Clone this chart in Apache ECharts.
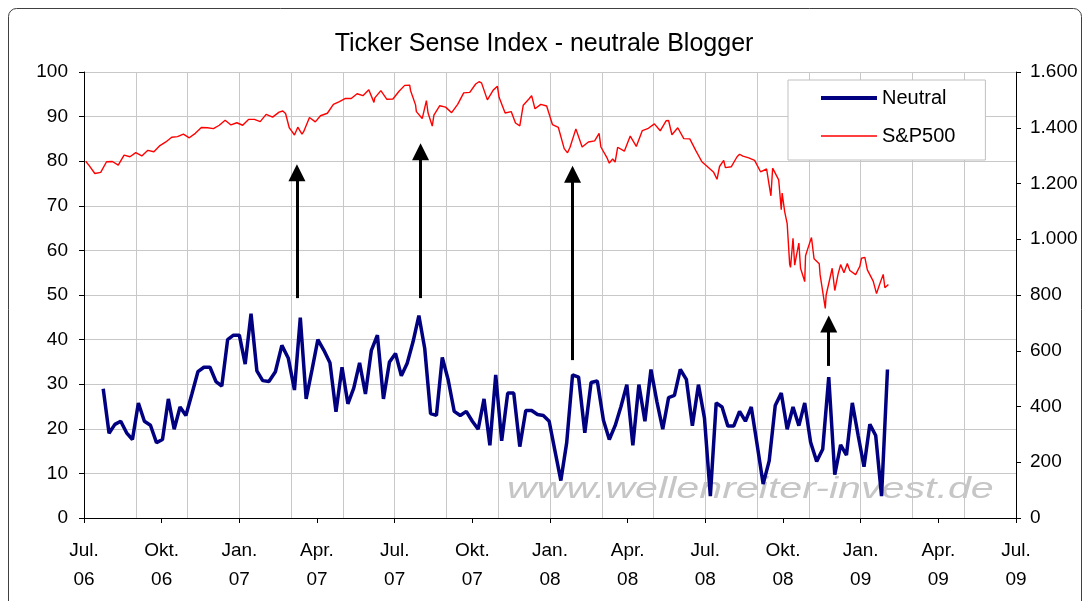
<!doctype html>
<html lang="de">
    <head>
        <meta charset="UTF-8" />
        <title>Ticker Sense Index - neutrale Blogger</title>
        <script src="https://cdn.jsdelivr.net/npm/echarts@6.0.0/dist/echarts.min.js"></script>
        <style>
            html, body { margin: 0; padding: 0; background: #fff; }
        </style>
    </head>
    <body>
        <div id="main" style="width: 1088px; height: 601px"></div>

        <script>
            // Neutral bloggers (%), one reading per week starting at neutralStart
            const neutralStart = "2006-07-24";
            const neutralValues = [
                29, 19, 21, 21.7, 19.1, 17.6, 25.8, 21.7, 20.8, 16.9, 17.6, 26.7, 19.9, 24.9, 23, 27.8, 32.8, 33.8, 33.8, 30.6, 29.6, 40, 41,
                41, 34.5, 45.8, 33, 30.8, 30.6, 32.8, 38.7, 35.8, 28.7, 44.9, 26.7, 33.2, 40, 37.6, 34.8, 23.8, 33.8, 25.6, 29.1, 34.8, 27.8,
                37.6, 41, 26.7, 35, 36.9, 31.9, 34.7, 39.5, 45.4, 38, 23.4, 23, 36, 31, 23.9, 23, 23.9, 21.7, 19.9, 26.7, 16.3, 32.1, 17.3,
                28, 28, 16, 24.1, 24.1, 23.2, 23, 21.7, 15, 8.4, 16.9, 32.1, 31.6, 19.1, 30.4, 30.7, 21.9, 17.6, 20.7, 25, 29.9, 16.3, 29.9,
                21.7, 33.3, 26.1, 19.9, 27, 27.5, 33.3, 31.1, 20.7, 29.9, 22.4, 4.9, 25.8, 24.9, 20.6, 20.6, 23.9, 21.7, 24.9, 16.5, 7.6, 12.8, 25.2,
                28, 19.9, 24.9, 20.7, 25.8, 17, 12.7, 15.4, 31.6, 9.7, 16.4, 14.1, 25.8, 18.5, 11.5, 21, 18.5, 4.9, 33.3
            ];

            // S&P 500 closes
            const spDates = [
                "2006-07-03", "2006-07-07", "2006-07-14", "2006-07-21", "2006-07-28", "2006-08-04", "2006-08-11", "2006-08-18",
                "2006-08-25", "2006-09-01", "2006-09-08", "2006-09-15", "2006-09-22", "2006-09-29", "2006-10-06", "2006-10-13",
                "2006-10-20", "2006-10-27", "2006-11-03", "2006-11-10", "2006-11-17", "2006-11-24", "2006-12-01", "2006-12-08",
                "2006-12-15", "2006-12-22", "2006-12-29", "2007-01-05", "2007-01-12", "2007-01-19", "2007-01-26", "2007-02-02",
                "2007-02-09", "2007-02-16", "2007-02-20", "2007-02-23", "2007-02-27", "2007-03-02", "2007-03-05", "2007-03-09",
                "2007-03-14", "2007-03-16", "2007-03-23", "2007-03-30", "2007-04-05", "2007-04-13", "2007-04-20", "2007-04-27",
                "2007-05-04", "2007-05-11", "2007-05-18", "2007-05-25", "2007-06-01", "2007-06-07", "2007-06-08", "2007-06-15",
                "2007-06-22", "2007-06-29", "2007-07-06", "2007-07-13", "2007-07-19", "2007-07-20", "2007-07-26", "2007-07-27",
                "2007-08-03", "2007-08-08", "2007-08-10", "2007-08-15", "2007-08-17", "2007-08-24", "2007-08-31", "2007-09-07",
                "2007-09-14", "2007-09-21", "2007-09-28", "2007-10-05", "2007-10-09", "2007-10-12", "2007-10-19", "2007-10-26",
                "2007-10-31", "2007-11-02", "2007-11-09", "2007-11-16", "2007-11-21", "2007-11-26", "2007-11-30", "2007-12-07",
                "2007-12-10", "2007-12-14", "2007-12-21", "2007-12-28", "2008-01-04", "2008-01-11", "2008-01-18", "2008-01-22",
                "2008-01-25", "2008-02-01", "2008-02-08", "2008-02-15", "2008-02-22", "2008-02-27", "2008-02-29", "2008-03-07",
                "2008-03-10", "2008-03-14", "2008-03-17", "2008-03-20", "2008-03-28", "2008-04-04", "2008-04-11", "2008-04-18",
                "2008-04-25", "2008-05-02", "2008-05-09", "2008-05-16", "2008-05-19", "2008-05-23", "2008-05-30", "2008-06-06",
                "2008-06-13", "2008-06-20", "2008-06-27", "2008-07-03", "2008-07-11", "2008-07-15", "2008-07-18", "2008-07-23",
                "2008-07-25", "2008-08-01", "2008-08-08", "2008-08-11", "2008-08-15", "2008-08-22", "2008-08-29", "2008-09-05",
                "2008-09-12", "2008-09-15", "2008-09-17", "2008-09-19", "2008-09-26", "2008-09-29", "2008-09-30", "2008-10-03",
                "2008-10-06", "2008-10-09", "2008-10-10", "2008-10-13", "2008-10-15", "2008-10-17", "2008-10-20", "2008-10-22",
                "2008-10-24", "2008-10-27", "2008-10-28", "2008-10-31", "2008-11-04", "2008-11-07", "2008-11-13", "2008-11-14",
                "2008-11-20", "2008-11-21", "2008-11-28", "2008-12-01", "2008-12-05", "2008-12-08", "2008-12-12", "2008-12-16",
                "2008-12-19", "2008-12-26", "2008-12-31", "2009-01-02", "2009-01-06", "2009-01-09", "2009-01-16", "2009-01-20",
                "2009-01-23", "2009-01-28", "2009-01-30", "2009-02-03"
            ];
            const spValues = [
                1280, 1265, 1236, 1240, 1278, 1279, 1266, 1302,
                1296, 1311, 1299, 1319, 1314, 1336, 1349, 1366,
                1368, 1377, 1364, 1380, 1401, 1400, 1397, 1409,
                1427, 1410, 1418, 1409, 1430, 1430, 1422, 1448,
                1438, 1456, 1460, 1451, 1400, 1387, 1374, 1402,
                1377, 1386, 1437, 1421, 1443, 1452, 1484, 1494,
                1505, 1505, 1522, 1515, 1536, 1491, 1507, 1533,
                1502, 1503, 1530, 1552, 1553, 1534, 1482, 1458,
                1433, 1497, 1453, 1406, 1445, 1479, 1474, 1454,
                1484, 1525, 1527, 1557, 1565, 1561, 1500, 1535,
                1549, 1509, 1453, 1458, 1417, 1407, 1481, 1504,
                1515, 1468, 1484, 1478, 1411, 1401, 1325, 1310,
                1330, 1396, 1331, 1349, 1353, 1380, 1331, 1294,
                1273, 1288, 1277, 1330, 1316, 1370, 1333, 1390,
                1398, 1414, 1389, 1425, 1426, 1375, 1400, 1361,
                1360, 1318, 1278, 1262, 1240, 1215, 1261, 1283,
                1257, 1260, 1296, 1305, 1298, 1292, 1283, 1242,
                1252, 1193, 1156, 1255, 1213, 1106, 1166, 1099,
                1056, 910, 899, 1003, 907, 940, 986, 896,
                877, 848, 941, 969, 1006, 930, 912, 873,
                752, 800, 896, 816, 876, 909, 880, 913,
                888, 873, 903, 932, 935, 890, 850, 805,
                832, 874, 826, 838
            ];

            // x tick labels, one per quarter from Jul. 06 to Jul. 09
            const xTickLabels = [
                "Jul.\n06", "Okt.\n06", "Jan.\n07", "Apr.\n07", "Jul.\n07", "Okt.\n07", "Jan.\n08",
                "Apr.\n08", "Jul.\n08", "Okt.\n08", "Jan.\n09", "Apr.\n09", "Jul.\n09"
            ];

            // Arrows drawn on the chart (date position, bottom and tip in left-axis units)
            const arrowDates = ["2007-03-08", "2007-08-01", "2008-01-28", "2008-11-24"];
            const arrowFrom = [49.3, 49.3, 35.4, 34.1];
            const arrowTo = [77.4, 82.1, 77.1, 43.5];

            // months since 1 Jul 2006
            function toMonths(s) {
                const [y, m, d] = s.split("-").map(Number);
                const dim = new Date(y, m, 0).getDate();
                return (y - 2006) * 12 + (m - 1) - 6 + (d - 1) / dim;
            }
            function addDays(s, n) {
                const t = new Date(s + "T00:00:00Z");
                t.setUTCDate(t.getUTCDate() + n);
                return t.toISOString().slice(0, 10);
            }
            function de(v) {
                if (v >= 1000) return Math.floor(v / 1000) + "." + String(v % 1000).padStart(3, "0");
                return String(v);
            }

            const neutralData = neutralValues.map((v, i) => [toMonths(addDays(neutralStart, i * 7)), v]);
            const spData = spDates.map((d, i) => [toMonths(d), spValues[i]]);

            const myChart = echarts.init(document.getElementById("main"));
            const font = "Liberation Sans, Arial, sans-serif";

            const options = {
                animation: false,
                backgroundColor: "#fff",
                textStyle: { fontFamily: font, color: "#000" },
                title: {
                    text: "Ticker Sense Index - neutrale Blogger",
                    left: "center",
                    top: 27,
                    textStyle: { fontFamily: font, fontSize: 25, fontWeight: "normal", color: "#000" },
                },
                legend: {
                    orient: "vertical",
                    left: 788,
                    top: 80,
                    padding: [7, 30, 13, 33],
                    itemGap: 16,
                    itemWidth: 56,
                    itemHeight: 14,
                    backgroundColor: "#fff",
                    borderColor: "#c0c0c0",
                    borderWidth: 1,
                    textStyle: { fontFamily: font, fontSize: 20, color: "#000", lineHeight: 22 },
                    data: [
                        { name: "Neutral", icon: "path://M0,0H56V4H0Z" },
                        { name: "S&P500", icon: "path://M0,0H56V1.5H0Z" },
                    ],
                },
                grid: { left: 84, right: 72, top: 72, bottom: 83, containLabel: false },
                graphic: [
                    {
                        type: "rect",
                        shape: { x: 8.5, y: 8.5, width: 1073, height: 610, r: 8 },
                        style: { fill: "none", stroke: "#404040", lineWidth: 1 },
                        silent: true,
                    },
                    {
                        type: "text",
                        x: 507,
                        y: 490,
                        scaleX: 1.42,
                        z: 1,
                        silent: true,
                        style: {
                            text: "www.wellenreiter-invest.de",
                            font: "italic 29px Liberation Sans, Arial, sans-serif",
                            fill: "#c6c6c6",
                            verticalAlign: "middle",
                        },
                    },
                ],
                xAxis: [
                    {
                        type: "value",
                        min: 0,
                        max: 36,
                        interval: 3,
                        position: "bottom",
                        axisLine: { show: true, onZero: false, lineStyle: { color: "#000", width: 1 } },
                        axisTick: { show: true, length: 5, lineStyle: { color: "#000" } },
                        axisLabel: {
                            margin: 18,
                            fontSize: 19,
                            lineHeight: 29,
                            color: "#000",
                            fontFamily: font,
                            formatter: (v) => xTickLabels[Math.round(v / 3)],
                        },
                        splitLine: { show: false },
                    },
                    {
                        type: "value",
                        min: 0,
                        max: 36,
                        interval: 2,
                        position: "bottom",
                        axisLine: { show: false },
                        axisTick: { show: false },
                        axisLabel: { show: false },
                        splitLine: { show: true, lineStyle: { color: "#c8c8c8", width: 1 } },
                    },
                ],
                yAxis: [
                    {
                        type: "value",
                        min: 0,
                        max: 100,
                        interval: 10,
                        position: "left",
                        axisLine: { show: true, onZero: false, lineStyle: { color: "#000", width: 1 } },
                        axisTick: { show: true, length: 5, lineStyle: { color: "#000" } },
                        axisLabel: { margin: 16, fontSize: 19, color: "#000", fontFamily: font },
                        splitLine: { show: true, lineStyle: { color: "#c8c8c8", width: 1 } },
                    },
                    {
                        type: "value",
                        min: 0,
                        max: 1600,
                        interval: 200,
                        position: "right",
                        axisLine: { show: true, onZero: false, lineStyle: { color: "#000", width: 1 } },
                        axisTick: { show: true, length: 5, lineStyle: { color: "#000" } },
                        axisLabel: { margin: 14, fontSize: 19, color: "#000", fontFamily: font, formatter: de },
                        splitLine: { show: false },
                    },
                ],
                series: [
                    {
                        name: "S&P500",
                        type: "line",
                        xAxisIndex: 0,
                        yAxisIndex: 1,
                        data: spData,
                        symbol: "none",
                        showSymbol: false,
                        lineStyle: { color: "#ff0000", width: 1.4 },
                        itemStyle: { color: "#ff0000" },
                        z: 3,
                    },
                    {
                        name: "Neutral",
                        type: "line",
                        xAxisIndex: 0,
                        yAxisIndex: 0,
                        data: neutralData,
                        symbol: "none",
                        showSymbol: false,
                        lineStyle: { color: "#000080", width: 3.5 },
                        itemStyle: { color: "#000080" },
                        z: 4,
                        markLine: {
                            silent: true,
                            animation: false,
                            symbol: ["none", "triangle"],
                            symbolSize: 17,
                            label: { show: false },
                            lineStyle: { color: "#000", width: 3, type: "solid" },
                            itemStyle: { color: "#000" },
                            emphasis: { disabled: true },
                            data: arrowDates.map((d, i) => [
                                { coord: [toMonths(d), arrowFrom[i]] },
                                { coord: [toMonths(d), arrowTo[i]] },
                            ]),
                        },
                    },
                ],
            };

            myChart.setOption(options);
        </script>
    </body>
</html>
